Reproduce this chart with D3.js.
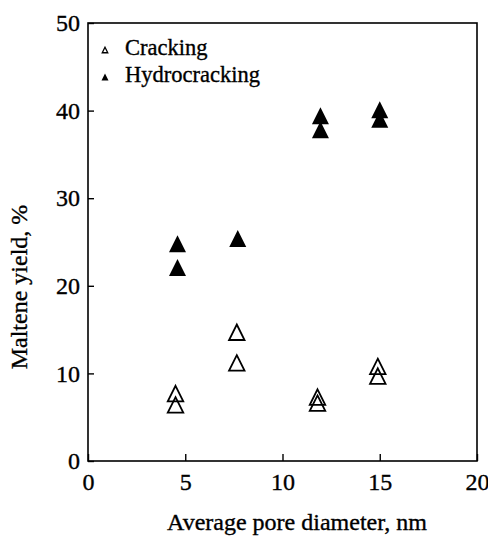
<!DOCTYPE html>
<html>
<head>
<meta charset="utf-8">
<script src="https://cdn.jsdelivr.net/npm/d3@7/dist/d3.min.js"></script>
<style>
  html, body { margin: 0; padding: 0; background: #fff; }
  svg { display: block; }
  text { font-family: "Liberation Serif", "Times New Roman", serif; fill: #000; stroke: #000; stroke-width: 0.35px; }
</style>
</head>
<body>
<div id="chart"></div>
<script>
// Average pore diameter (nm) and maltene yield (%) for each run
const crackingX = [4.5, 4.5, 7.65, 7.65, 11.8, 11.8, 14.9, 14.9];
const crackingY = [7.7, 6.4, 14.7, 11.2, 7.3, 6.6, 10.8, 9.7];
const hydroX = [4.6, 4.6, 7.7, 11.95, 11.95, 15.0, 15.0];
const hydroY = [24.8, 22.1, 25.4, 39.4, 37.8, 40.1, 39.0];

const xTicks = [0, 5, 10, 15, 20];
const yTicks = [0, 10, 20, 30, 40, 50];
const seriesNames = ["Cracking", "Hydrocracking"];
const xTitle = "Average pore diameter, nm";
const yTitle = "Maltene yield, %";

const W = 488, H = 536;
const margin = { left: 88, right: 11, top: 23, bottom: 75 };

const svg = d3.select("#chart").append("svg")
  .attr("width", W).attr("height", H);

const x = d3.scaleLinear().domain([0, 20]).range([margin.left, W - margin.right]);
const y = d3.scaleLinear().domain([0, 50]).range([H - margin.bottom, margin.top]);

// Triangle centred on its bounding box
const triangle = {
  draw(ctx, size) {
    const r = Math.sqrt(size) / 2;
    ctx.moveTo(0, -r);
    ctx.lineTo(r, r);
    ctx.lineTo(-r, r);
    ctx.closePath();
  }
};
const sym = d3.symbol().type(triangle);

// Frame
svg.append("rect")
  .attr("x", x(0)).attr("y", y(50))
  .attr("width", x(20) - x(0)).attr("height", y(0) - y(50))
  .attr("fill", "none").attr("stroke", "#000").attr("stroke-width", 1.6);

// Axes with inward ticks
const xAxis = svg.append("g")
  .attr("transform", `translate(0,${y(0)})`)
  .call(d3.axisBottom(x).tickValues(xTicks).tickSize(-7).tickPadding(12).tickFormat(d3.format("d")));
const yAxis = svg.append("g")
  .attr("transform", `translate(${x(0)},0)`)
  .call(d3.axisLeft(y).tickValues(yTicks).tickSize(-6).tickPadding(8).tickFormat(d3.format("d")));

[xAxis, yAxis].forEach(g => {
  g.select(".domain").remove();
  g.selectAll(".tick line").attr("stroke", "#000").attr("stroke-width", 1.4);
  g.selectAll(".tick text")
    .attr("font-family", "Liberation Serif, Times New Roman, serif")
    .attr("font-size", 24).attr("fill", "#000");
});
xAxis.selectAll(".tick text").attr("dy", "0.71em");

// Axis titles
svg.append("text")
  .attr("x", 297).attr("y", 530)
  .attr("text-anchor", "middle").attr("font-size", 24)
  .text(xTitle);
svg.append("text")
  .attr("transform", `translate(27,287) rotate(-90)`)
  .attr("text-anchor", "middle").attr("font-size", 24)
  .text(yTitle);

// Data points
const cracking = crackingX.map((d, i) => [d, crackingY[i]]);
const hydro = hydroX.map((d, i) => [d, hydroY[i]]);

svg.append("g").selectAll("path").data(cracking).join("path")
  .attr("transform", d => `translate(${x(d[0])},${y(d[1])})`)
  .attr("d", sym.size(15.5 * 15.5))
  .attr("fill", "none").attr("stroke", "#000").attr("stroke-width", 1.8)
  .attr("stroke-linejoin", "miter");

svg.append("g").selectAll("path").data(hydro).join("path")
  .attr("transform", d => `translate(${x(d[0])},${y(d[1])})`)
  .attr("d", sym.size(17 * 17))
  .attr("fill", "#000").attr("stroke", "none");

// Legend
const legend = svg.append("g");
seriesNames.forEach((name, i) => {
  const ly = 50 + i * 27;
  legend.append("path")
    .attr("transform", `translate(105,${ly})`)
    .attr("d", d3.symbol().type(triangle).size(i === 0 ? 5.5 * 5.5 : 7 * 7)())
    .attr("fill", i === 0 ? "none" : "#000")
    .attr("stroke", i === 0 ? "#000" : "none")
    .attr("stroke-width", 1.3);
  legend.append("text")
    .attr("x", 125).attr("y", ly + 5)
    .attr("font-size", 22.5)
    .text(name);
});
</script>
</body>
</html>
